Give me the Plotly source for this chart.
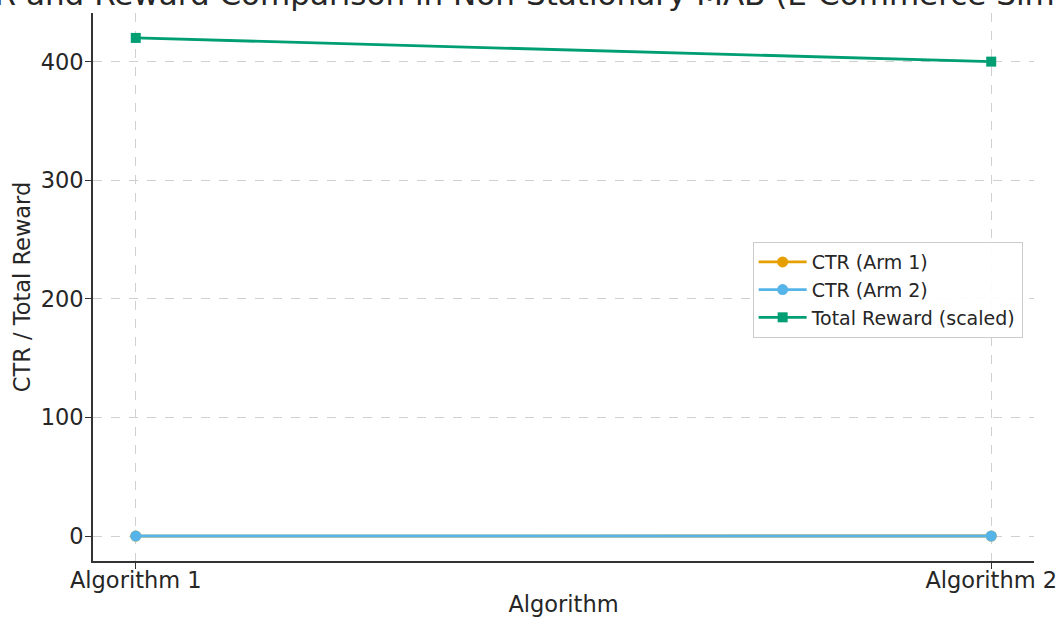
import plotly.graph_objects as go

algorithms = ["Algorithm 1", "Algorithm 2"]
ctr_arm1 = [0.05, 0.06]
ctr_arm2 = [0.06, 0.07]
total_reward_scaled = [420, 400]
y_ticks = [0, 100, 200, 300, 400]

title_text = "CTR and Reward Comparison in Non-Stationary MAB (E-Commerce Simulation)"
FONT = "DejaVu Sans"

fig = go.Figure()
fig.add_trace(go.Scatter(
    x=algorithms, y=ctr_arm1, mode="lines+markers", name="CTR (Arm 1)",
    line=dict(color="#E69F00", width=2.8),
    marker=dict(symbol="circle", size=11, color="#E69F00"),
))
fig.add_trace(go.Scatter(
    x=algorithms, y=ctr_arm2, mode="lines+markers", name="CTR (Arm 2)",
    line=dict(color="#56B4E9", width=2.8),
    marker=dict(symbol="circle", size=11, color="#56B4E9"),
))
fig.add_trace(go.Scatter(
    x=algorithms, y=total_reward_scaled, mode="lines+markers", name="Total Reward (scaled)",
    line=dict(color="#009E73", width=2.8),
    marker=dict(symbol="square", size=10, color="#009E73"),
))

axis_common = dict(
    showline=True, linecolor="#333333", linewidth=1.6,
    ticks="outside", ticklen=6, tickwidth=1.4, tickcolor="#333333",
    showgrid=True, gridcolor="#d0d0d0", gridwidth=1, griddash="dash",
    zeroline=False, mirror=False, automargin=False,
    tickfont=dict(family=FONT, size=22.5, color="#262626"),
)

fig.update_layout(
    width=1056, height=617,
    margin=dict(l=93, r=22, t=13, b=56),
    paper_bgcolor="white", plot_bgcolor="white",
    font=dict(family=FONT, color="#262626"),
    showlegend=True,
    legend=dict(
        x=0.701, y=0.582, xanchor="left", yanchor="top",
        bgcolor="rgba(255,255,255,0.9)", bordercolor="#cccccc", borderwidth=1,
        font=dict(family=FONT, size=19, color="#262626"),
        tracegroupgap=0, itemwidth=48,
    ),
    xaxis=dict(
        type="category", range=[-0.05, 1.05],
        ticklabelstandoff=-8,
        title=dict(text="Algorithm", font=dict(family=FONT, size=22.5, color="#262626"), standoff=10),
        **axis_common,
    ),
    yaxis=dict(
        range=[-21, 441], tickvals=y_ticks,
        ticklabelstandoff=-3,
        title=dict(text="CTR / Total Reward", font=dict(family=FONT, size=22.5, color="#262626"), standoff=4),
        **axis_common,
    ),
    annotations=[dict(
        text=title_text, xref="paper", yref="paper", x=0.5, y=1.0,
        xanchor="center", yanchor="bottom", showarrow=False, yshift=-1,
        font=dict(family=FONT, size=31, color="#262626"),
    )],
)

fig.write_html("out.html")
